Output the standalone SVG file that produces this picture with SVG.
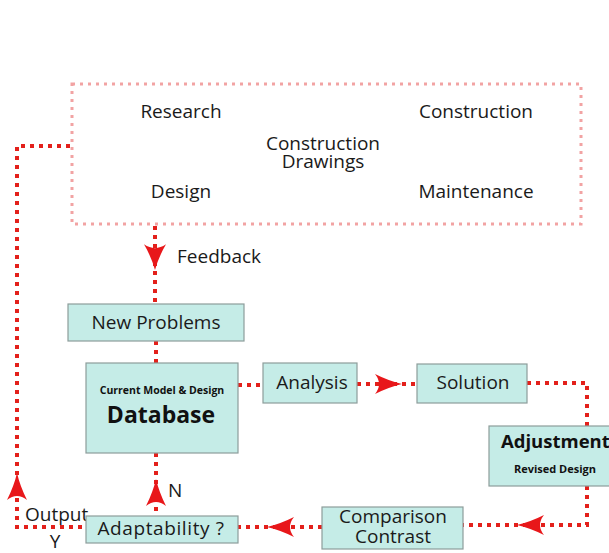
<svg xmlns="http://www.w3.org/2000/svg" width="609" height="553" viewBox="0 0 609 553">
<defs>
<style>
.box{fill:#c5ece7;stroke:#8d9d9b;stroke-width:1.2}
.t{font-family:"Open Sans","Noto Sans",sans-serif;font-size:19px;fill:#1a1a1a}
.b{font-family:"Open Sans","Noto Sans",sans-serif;font-weight:bold;fill:#111}
.ln{fill:none;stroke:#e3201b;stroke-width:4;stroke-dasharray:4 5}
.frame{fill:none;stroke:#f2a3a3;stroke-width:3;stroke-dasharray:3 5}
.ah{fill:#e8171a}
</style>
<path id="arr" d="M0,0 Q-13,-3 -27,-10 Q-19,0 -27,10 Q-13,3 0,0 Z"/>
</defs>
<rect width="609" height="553" fill="#ffffff"/>
<g id="frame">
<rect class="frame" x="72" y="84" width="509" height="140"/>
<text class="t" x="181" y="118" text-anchor="middle">Research</text>
<text class="t" x="476" y="118" text-anchor="middle">Construction</text>
<text class="t" x="323" y="150" text-anchor="middle" font-size="18.5">Construction</text>
<text class="t" x="323" y="168" text-anchor="middle" font-size="18.5">Drawings</text>
<text class="t" x="181" y="198" text-anchor="middle">Design</text>
<text class="t" x="476" y="198" text-anchor="middle">Maintenance</text>
</g>
<g id="connectors">
<path class="ln" d="M70,146 H17 V527 H86"/>
<path class="ln" d="M155,226 V304"/>
<path class="ln" d="M156,341 V363"/>
<path class="ln" d="M156,453 V516"/>
<path class="ln" d="M238,385 H263"/>
<path class="ln" d="M357,384 H417"/>
<path class="ln" d="M527,383 H587 V426"/>
<path class="ln" d="M587,486 V525 H463"/>
<path class="ln" d="M322,527 H238"/>
<use href="#arr" class="ah" transform="translate(17,473) rotate(-90)"/>
<use href="#arr" class="ah" transform="translate(155,270) rotate(90) scale(0.95,1.1)"/>
<use href="#arr" class="ah" transform="translate(156,479) rotate(-90)"/>
<use href="#arr" class="ah" transform="translate(402,384)"/>
<use href="#arr" class="ah" transform="translate(517,525) rotate(180)"/>
<use href="#arr" class="ah" transform="translate(267,527) rotate(180)"/>
<text class="t" x="177" y="263" font-size="15">Feedback</text>
<text class="t" x="168" y="497" font-size="15">N</text>
<text class="t" x="25" y="521" font-size="13.5">Output</text>
<text class="t" x="55" y="548" font-size="14" text-anchor="middle">Y</text>
</g>
<g id="new-problems">
<rect class="box" x="68" y="304" width="176" height="37"/>
<text class="t" x="156" y="329" text-anchor="middle" font-size="19.5">New Problems</text>
</g>
<g id="database">
<rect class="box" x="86" y="363" width="152" height="90"/>
<text class="b" x="162" y="394" font-size="10.5" text-anchor="middle">Current Model &amp; Design</text>
<text class="b" x="161" y="423" font-size="23" text-anchor="middle">Database</text>
</g>
<g id="analysis">
<rect class="box" x="263" y="363" width="94" height="40"/>
<text class="t" x="312" y="389" text-anchor="middle">Analysis</text>
</g>
<g id="solution">
<rect class="box" x="417" y="364" width="110" height="39"/>
<text class="t" x="473" y="389" text-anchor="middle">Solution</text>
</g>
<g id="adjustment">
<rect class="box" x="489" y="426" width="130" height="60"/>
<text class="b" x="501" y="448" font-size="18.5">Adjustment</text>
<text class="b" x="555" y="473" font-size="11" text-anchor="middle">Revised Design</text>
</g>
<g id="comparison">
<rect class="box" x="322" y="507" width="141" height="42"/>
<text class="t" x="393" y="523" text-anchor="middle" font-size="19">Comparison</text>
<text class="t" x="393" y="543" text-anchor="middle" font-size="19">Contrast</text>
</g>
<g id="adaptability">
<rect class="box" x="86" y="516" width="152" height="27"/>
<text class="t" x="161" y="535" text-anchor="middle" font-size="19.5" letter-spacing="0.6">Adaptability ?</text>
</g>
</svg>
